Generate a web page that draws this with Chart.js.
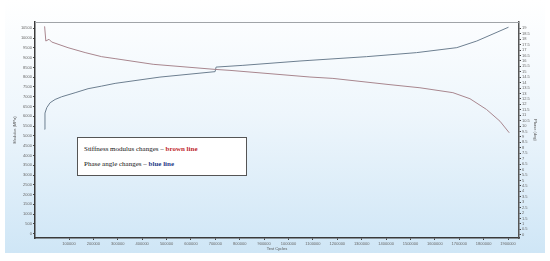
<!DOCTYPE html>
<html>
<head>
<meta charset="utf-8">
<script src="https://cdn.jsdelivr.net/npm/chart.js@4"></script>
<style>
  html, body { margin:0; padding:0; background:#ffffff; }
  body { width:550px; height:261px; position:relative; overflow:hidden; }
  #panel { position:absolute; left:5px; top:0; width:540px; height:253px;
           background:linear-gradient(to bottom, #ffffff 0%, #eef6fc 45%, #cfe6f6 100%); }
  #wrap { position:absolute; left:0; top:0; width:550px; height:261px; }
  #note { position:absolute; left:77px; top:137px; width:170px; height:39px;
          background:#ffffff; border:1px solid #555; box-sizing:border-box;
          font-family:"Liberation Serif","DejaVu Serif",serif; font-size:7px; color:#111; }
  #note div { position:absolute; left:6px; white-space:nowrap; }
  #note .r { color:#c0282d; font-weight:bold; }
  #note .b { color:#1f3c88; font-weight:bold; }
</style>
</head>
<body>
<div id="panel"></div>
<div id="wrap"><canvas id="c" width="550" height="261"></canvas></div>
<div id="note">
  <div style="top:7px">Stiffness modulus changes – <span class="r">brown line</span></div>
  <div style="top:22px">Phase angle changes – <span class="b">blue line</span></div>
</div>
<script>
// ---- data ----
const stiffnessCycles = [0, 5000, 18000, 29000, 96000, 166000, 234000, 289000, 445000, 699000, 760000, 1088000, 1182000, 1408000, 1539000, 1674000, 1744000, 1812000, 1867000, 1905000];
const stiffnessValues = [10600, 9850, 9940, 9800, 9510, 9260, 9050, 8950, 8660, 8400, 8350, 8010, 7940, 7630, 7460, 7210, 6900, 6350, 5750, 5160];

const phaseCycles = [0, 1500, 9000, 22500, 43000, 70000, 125000, 178000, 234000, 289000, 473000, 699000, 703000, 813000, 1047000, 1088000, 1320000, 1525000, 1690000, 1772000, 1902000];
const phaseValues = [9.7, 11.2, 11.7, 12.15, 12.45, 12.7, 13.07, 13.44, 13.68, 13.93, 14.51, 15.01, 15.43, 15.59, 15.99, 16.05, 16.39, 16.76, 17.22, 17.83, 19.1];

const xTickValues = [100000, 200000, 300000, 400000, 500000, 600000, 700000, 800000, 900000, 1000000, 1100000, 1200000, 1300000, 1400000, 1500000, 1600000, 1700000, 1800000, 1900000];
const leftTickValues = [0, 500, 1000, 1500, 2000, 2500, 3000, 3500, 4000, 4500, 5000, 5500, 6000, 6500, 7000, 7500, 8000, 8500, 9000, 9500, 10000, 10500];
const rightTickValues = [0, 0.5, 1, 1.5, 2, 2.5, 3, 3.5, 4, 4.5, 5, 5.5, 6, 6.5, 7, 7.5, 8, 8.5, 9, 9.5, 10, 10.5, 11, 11.5, 12, 12.5, 13, 13.5, 14, 14.5, 15, 15.5, 16, 16.5, 17, 17.5, 18, 18.5, 19];

const xTitle = "Test Cycles";
const leftTitle = "Modulus (MPa)";
const rightTitle = "Phase (deg)";

const stiffnessData = stiffnessCycles.map((c, i) => ({x: c, y: stiffnessValues[i]}));
const phaseData = phaseCycles.map((c, i) => ({x: c, y: phaseValues[i]}));

const tickFont = {family: "'Liberation Sans', Arial, sans-serif", size: 4};

const frame = {
  id: 'frame',
  afterDatasetsDraw(chart) {
    const {ctx, chartArea: a} = chart;
    ctx.save();
    ctx.strokeStyle = '#a0a4a8';
    ctx.lineWidth = 1;
    ctx.beginPath();
    ctx.moveTo(a.left, a.top + 0.5);
    ctx.lineTo(a.right, a.top + 0.5);
    ctx.stroke();
    ctx.restore();
  }
};

new Chart(document.getElementById('c'), {
  type: 'line',
  data: {
    datasets: [
      { label: 'Stiffness modulus', data: stiffnessData, yAxisID: 'y',
        borderColor: '#a8868e', borderWidth: 1, pointRadius: 0, tension: 0, fill: false },
      { label: 'Phase angle', data: phaseData, yAxisID: 'y2',
        borderColor: '#6d7f90', borderWidth: 1, pointRadius: 0, tension: 0, fill: false }
    ]
  },
  options: {
    responsive: false,
    animation: false,
    devicePixelRatio: 1,
    layout: { padding: { top: 22, left: 0, right: 0, bottom: 0 } },
    plugins: { legend: { display: false }, tooltip: { enabled: false } },
    scales: {
      x: {
        type: 'linear', min: -39400, max: 1945000,
        afterBuildTicks: s => { s.ticks = xTickValues.map(v => ({value: v})); },
        afterFit: s => { s.height = 23; },
        ticks: { font: tickFont, color: '#666', padding: 1, maxRotation: 0, autoSkip: false,
                 callback: v => String(v) },
        grid: { drawOnChartArea: false, drawTicks: true, tickLength: 2, color: '#444' },
        border: { display: true, color: '#3a3a3a', width: 1.5 },
        title: { display: true, text: xTitle, font: tickFont, color: '#555', padding: {top: 1, bottom: 10} }
      },
      y: {
        type: 'linear', position: 'left', min: -220, max: 10823,
        afterBuildTicks: s => { s.ticks = leftTickValues.map(v => ({value: v})); },
        afterFit: s => { s.width = 35; },
        ticks: { font: tickFont, color: '#666', padding: 1, autoSkip: false, callback: v => String(v) },
        grid: { drawOnChartArea: false, drawTicks: true, tickLength: 2, color: '#444' },
        border: { display: true, color: '#3a3a3a', width: 1.5 },
        title: { display: true, text: leftTitle, font: tickFont, color: '#555', padding: {top: 12, bottom: 0} }
      },
      y2: {
        type: 'linear', position: 'right', min: -0.3, max: 19.58,
        afterBuildTicks: s => { s.ticks = rightTickValues.map(v => ({value: v})); },
        afterFit: s => { s.width = 31; },
        ticks: { font: tickFont, color: '#666', padding: 1, autoSkip: false, callback: v => String(v) },
        grid: { drawOnChartArea: false, drawTicks: true, tickLength: 2, color: '#444' },
        border: { display: true, color: '#555', width: 1.5 },
        title: { display: true, text: rightTitle, font: tickFont, color: '#555', padding: {top: 12, bottom: 0} }
      }
    }
  },
  plugins: [frame]
});
</script>
</body>
</html>
